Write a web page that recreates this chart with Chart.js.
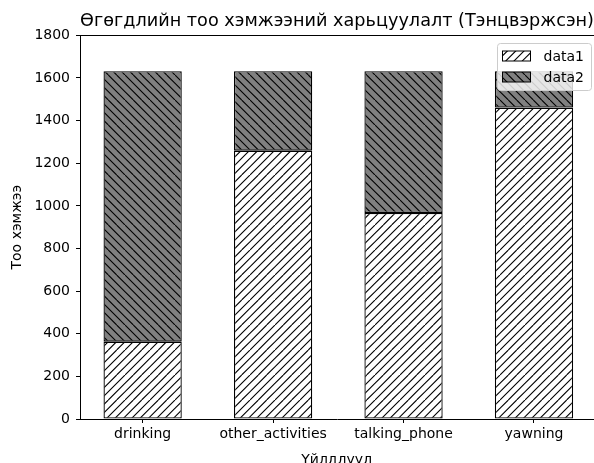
<!DOCTYPE html>
<html>
<head>
<meta charset="utf-8">
<script src="https://cdn.jsdelivr.net/npm/chart.js@4"></script>
<style>
  html, body { margin: 0; padding: 0; overflow: hidden; background: #fff; }
  #wrap { width: 594px; height: 463px; }
</style>
</head>
<body>
<div id="wrap"><canvas id="barChart" width="594" height="463"></canvas></div>
<script>
const categories = ['drinking', 'other_activities', 'talking_phone', 'yawning'];
const data1 = [363, 1259, 967, 1461];
const data2 = [1269, 373, 665, 171];
const seriesNames = ['data1', 'data2'];
const yMin = 0, yMax = 1800, yStep = 200;

const font = 'DejaVu Sans';

// matplotlib-like hatch tiles
function makeHatch(bg, dir) {
    const s = 25;
    const c = document.createElement('canvas');
    c.width = s; c.height = s;
    const g = c.getContext('2d');
    g.fillStyle = bg;
    g.fillRect(0, 0, s, s);
    g.strokeStyle = '#000';
    g.lineWidth = 1.1;
    g.beginPath();
    for (let x = -s; x <= s; x += s / 3) {
        if (dir === '/') {
            g.moveTo(x, s); g.lineTo(x + s, 0);
        } else {
            g.moveTo(x, 0); g.lineTo(x + s, s);
        }
    }
    g.stroke();
    return g.createPattern(c, 'repeat');
}

const ctx = document.getElementById('barChart').getContext('2d');
const hatch1 = makeHatch('#ffffff', '/');
const hatch2 = makeHatch('#808080', '\\');
const fills = [hatch1, hatch2];

const frame = {
    id: 'frame',
    afterDatasetsDraw(chart) {
        const a = chart.chartArea;
        const c = chart.ctx;
        c.save();
        c.strokeStyle = '#000';
        c.lineWidth = 1;
        c.beginPath();
        c.moveTo(a.left, Math.round(a.top) + 0.5);
        c.lineTo(a.right, Math.round(a.top) + 0.5);
        c.stroke();
        c.restore();
    },
    afterDraw(chart) {
        const a = chart.chartArea;
        const c = chart.ctx;
        const w = 94, h = 47;
        const left = Math.round(a.right - 3 - w) + 0.5;
        const top = Math.round(a.top + 7.5) + 0.5;
        c.save();
        c.beginPath();
        c.roundRect(left, top, w, h, 3);
        c.fillStyle = 'rgba(255,255,255,0.8)';
        c.fill();
        c.strokeStyle = '#cccccc';
        c.lineWidth = 1;
        c.stroke();
        c.font = '14px "' + font + '"';
        c.textBaseline = 'middle';
        seriesNames.forEach((name, i) => {
            const cy = top + 12.5 + i * 21;
            c.fillStyle = fills[i];
            c.fillRect(left + 5, cy - 5, 28, 10);
            c.strokeStyle = '#000';
            c.strokeRect(left + 5, cy - 5, 28, 10);
            c.fillStyle = '#000';
            c.fillText(name, left + 46, cy + 1);
        });
        c.restore();
    }
};

const barStyle = {
    borderColor: '#000',
    borderWidth: 1.3,
    borderSkipped: false,
    categoryPercentage: 1,
    barPercentage: 0.6
};

new Chart(ctx, {
    type: 'bar',
    data: {
        datasets: [
            Object.assign({
                label: seriesNames[0],
                data: data1.map((v, i) => ({ x: i, y: v })),
                backgroundColor: hatch1
            }, barStyle),
            Object.assign({
                label: seriesNames[1],
                data: data2.map((v, i) => ({ x: i, y: v })),
                backgroundColor: hatch2
            }, barStyle)
        ]
    },
    options: {
        responsive: false,
        animation: false,
        layout: { padding: { left: 8.6, right: 0, top: 0, bottom: -6 } },
        plugins: {
            legend: { display: false },
            tooltip: { enabled: false },
            title: {
                display: true,
                text: 'Өгөгдлийн тоо хэмжээний харьцуулалт (Тэнцвэржсэн)',
                fullSize: false,
                color: '#000',
                font: { family: font, size: 17.8, weight: 'normal', lineHeight: 1.2 },
                padding: { top: 10.5, bottom: 3.5 }
            }
        },
        scales: {
            x: {
                type: 'linear',
                stacked: true,
                offset: false,
                min: -0.48,
                max: 3.46,
                afterBuildTicks: axis => {
                    axis.ticks = categories.map((c, i) => ({ value: i }));
                },
                ticks: {
                    callback: v => categories[v],
                    color: '#000',
                    padding: 3,
                    maxRotation: 0,
                    autoSkip: false,
                    font: { family: font, size: 14 }
                },
                grid: { offset: false, drawOnChartArea: false, drawTicks: true, tickLength: 4, color: '#000' },
                border: { color: '#000', width: 1 },
                title: {
                    display: true,
                    text: 'Үйлдлүүд',
                    color: '#000',
                    font: { family: font, size: 14, lineHeight: 1.2 },
                    padding: { top: 6.4, bottom: 0 }
                }
            },
            y: {
                stacked: true,
                min: yMin,
                max: yMax,
                ticks: {
                    stepSize: yStep,
                    callback: v => String(v),
                    color: '#000',
                    padding: 6,
                    font: { family: font, size: 14 }
                },
                grid: { drawOnChartArea: false, drawTicks: true, tickLength: 4, color: '#000' },
                border: { color: '#000', width: 1 },
                title: {
                    display: true,
                    text: 'Тоо хэмжээ',
                    color: '#000',
                    font: { family: font, size: 14, lineHeight: 1.2 },
                    padding: { top: 0, bottom: 3 }
                }
            }
        }
    },
    plugins: [frame]
});
</script>
</body>
</html>
